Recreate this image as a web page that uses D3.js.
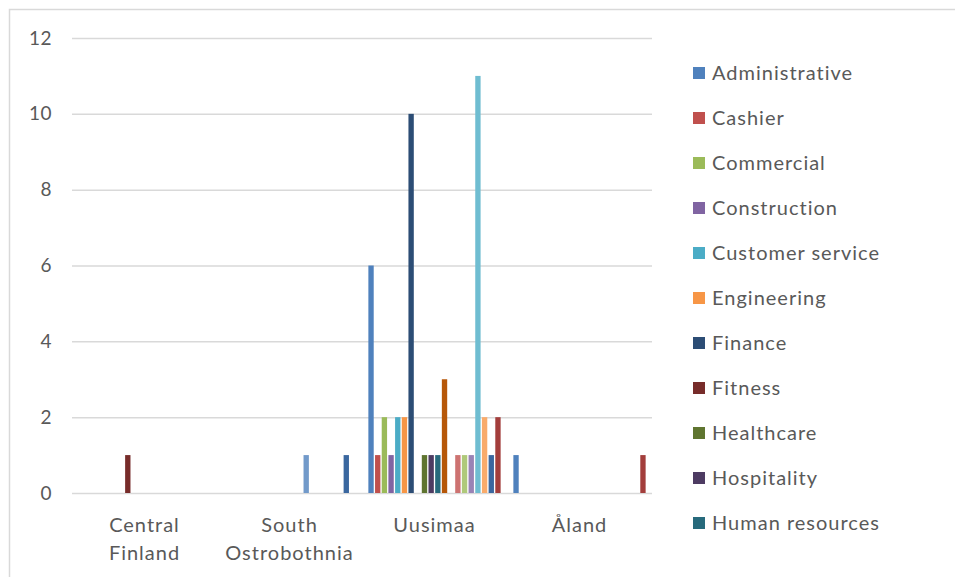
<!DOCTYPE html>
<html>
<head>
<meta charset="utf-8">
<script src="https://cdn.jsdelivr.net/npm/d3@7"></script>
<style>
  html, body { margin: 0; padding: 0; background: #fff; }
  svg { display: block; font-family: Lato, "Open Sans", sans-serif; }
</style>
</head>
<body>
<svg id="chart" width="955" height="577"></svg>
<script>
// Regions along the x axis
const regions = ["Central Finland", "South Ostrobothnia", "Uusimaa", "Åland"];
const regionLines = [["Central", "Finland"], ["South", "Ostrobothnia"], ["Uusimaa"], ["Åland"]];

// Job categories (series), in plotting order
const jobs = [
  "Administrative", "Cashier", "Commercial", "Construction", "Customer service",
  "Engineering", "Finance", "Fitness", "Healthcare", "Hospitality",
  "Human resources", "IT", "Legal", "Logistics", "Maintenance",
  "Manufacturing", "Marketing", "Research", "Sales", "Transport"
];
const jobColors = [
  "#4F81BD", "#C0504D", "#9BBB59", "#8064A2", "#4BACC6",
  "#F79646", "#2C4D75", "#772C2A", "#5F7530", "#4D3B62",
  "#276A7C", "#B65708", "#729ACA", "#CD7371", "#AFC97A",
  "#9983B5", "#6FBDD1", "#F9AB6B", "#3A679F", "#A33E3C"
];

// Counts per region, one entry per job category
const centralFinland    = [0,0,0,0,0, 0,0,1,0,0, 0,0,0,0,0, 0,0,0,0,0];
const southOstrobothnia = [0,0,0,0,0, 0,0,0,0,0, 0,0,1,0,0, 0,0,0,1,0];
const uusimaa           = [6,1,2,1,2, 2,10,0,1,1, 1,3,0,1,1, 1,11,2,1,2];
const aland             = [1,0,0,0,0, 0,0,0,0,0, 0,0,0,0,0, 0,0,0,0,1];
const valuesByRegion = [centralFinland, southOstrobothnia, uusimaa, aland];

const yTicks = [0, 2, 4, 6, 8, 10, 12];
const legendCount = 11; // entries that fit in the legend column

const svg = d3.select("#chart");

// Chart frame
svg.append("rect")
  .attr("x", 9.5).attr("y", 9.5)
  .attr("width", 1000).attr("height", 700)
  .attr("fill", "none").attr("stroke", "#D9D9D9").attr("stroke-width", 1.5);

const plot = { left: 72, right: 652, top: 38, bottom: 493 };

const x0 = d3.scaleBand().domain(regions).range([plot.left, plot.right]).padding(0);
const clusterW = 133.6;
const x1 = d3.scaleBand().domain(jobs)
  .range([(x0.bandwidth() - clusterW) / 2, (x0.bandwidth() + clusterW) / 2])
  .paddingInner(0.2).paddingOuter(0.1);
const y = d3.scaleLinear().domain([0, 12]).range([plot.bottom, plot.top]);

// Horizontal gridlines and y tick labels
const yAxis = d3.axisLeft(y).tickValues(yTicks).tickSize(-(plot.right - plot.left)).tickPadding(20);
const gy = svg.append("g").attr("transform", `translate(${plot.left},0)`).call(yAxis);
gy.select(".domain").remove();
gy.selectAll(".tick line").attr("stroke", "#D9D9D9").attr("stroke-width", 1.5);
gy.selectAll(".tick text")
  .attr("fill", "#595959").attr("font-size", 19).attr("letter-spacing", 0.5)
  .attr("font-family", "Lato, 'Open Sans', sans-serif");

// Bars
const groups = svg.append("g").selectAll("g")
  .data(regions)
  .join("g")
  .attr("transform", d => `translate(${x0(d)},0)`);

groups.selectAll("rect")
  .data((d, ri) => jobs.map((j, si) => ({ job: j, value: valuesByRegion[ri][si], color: jobColors[si] })))
  .join("rect")
  .filter(d => d.value > 0)
  .attr("x", d => x1(d.job))
  .attr("width", x1.bandwidth())
  .attr("y", d => y(d.value))
  .attr("height", d => y(0) - y(d.value))
  .attr("fill", d => d.color);

// Category labels
const xLabels = svg.append("g").selectAll("text")
  .data(regions)
  .join("text")
  .attr("x", d => x0(d) + x0.bandwidth() / 2)
  .attr("y", 532)
  .attr("text-anchor", "middle")
  .attr("fill", "#595959")
  .attr("font-size", 20)
  .attr("letter-spacing", 1);
xLabels.selectAll("tspan")
  .data((d, i) => regionLines[i])
  .join("tspan")
  .attr("x", function () { return d3.select(this.parentNode).attr("x"); })
  .attr("dy", (d, i) => i === 0 ? 0 : 28)
  .text(d => d);

// Legend
const legend = svg.append("g").selectAll("g")
  .data(jobs.slice(0, legendCount))
  .join("g")
  .attr("transform", (d, i) => `translate(693,${73 + i * 45})`);
legend.append("rect")
  .attr("x", 0).attr("y", -6).attr("width", 12).attr("height", 12)
  .attr("fill", (d, i) => jobColors[i]);
legend.append("text")
  .attr("x", 19).attr("y", 0).attr("dy", "0.35em")
  .attr("fill", "#595959").attr("font-size", 20)
  .attr("letter-spacing", 1)
  .text(d => d);
</script>
</body>
</html>
